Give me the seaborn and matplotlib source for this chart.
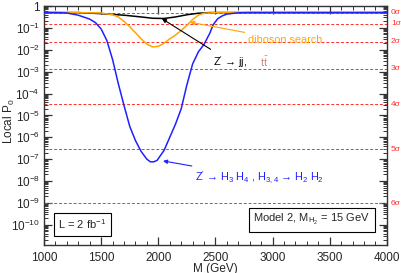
import numpy as np
import pandas as pd
import matplotlib
matplotlib.use("Agg")
import matplotlib.pyplot as plt
import matplotlib.ticker as mticker
import seaborn as sns

# curves: mass (GeV) and log10 of the local p0
blue_m = [1000, 1100, 1200, 1300, 1400, 1450, 1500, 1550, 1600, 1650, 1700, 1750, 1800,
          1850, 1900, 1930, 1960, 1990, 2050, 2100, 2150, 2200, 2250, 2300, 2350, 2400,
          2450, 2480, 2520, 2560, 2600, 2700, 2800, 4000]
blue_logp = [-0.30, -0.30, -0.32, -0.42, -0.60, -0.76, -1.05, -1.58, -2.45, -3.55, -4.55,
             -5.5, -6.15, -6.65, -7.0, -7.12, -7.12, -7.05, -6.6, -6.0, -5.4, -4.7, -3.6,
             -2.65, -2.1, -1.75, -1.25, -0.85, -0.58, -0.45, -0.37, -0.31, -0.30, -0.30]

orange_m = [1000, 1200, 1400, 1500, 1600, 1650, 1700, 1750, 1800, 1850, 1900, 1950, 2000,
            2050, 2100, 2150, 2200, 2250, 2300, 2350, 2400, 2500, 4000]
orange_logp = [-0.30, -0.30, -0.31, -0.32, -0.40, -0.50, -0.70, -0.95, -1.22, -1.50, -1.74,
               -1.87, -1.84, -1.70, -1.50, -1.33, -1.12, -0.88, -0.62, -0.42, -0.33, -0.30,
               -0.30]

black_m = [1000, 1300, 1500, 1700, 1850, 1950, 2050, 2150, 2250, 2350, 2450, 4000]
black_logp = [-0.30, -0.30, -0.35, -0.42, -0.50, -0.56, -0.57, -0.50, -0.40, -0.33, -0.30,
              -0.30]

# one-sided p-values for 0..6 sigma
sigma_labels = ["0σ", "1σ", "2σ", "3σ", "4σ", "5σ", "6σ"]
sigma_p = [0.5, 0.1587, 0.02275, 1.35e-3, 3.17e-5, 2.87e-7, 9.87e-10]

y_decades = list(range(0, -11, -1))

sns.set_style("ticks")
plt.rcParams["font.family"] = ["Liberation Sans", "DejaVu Sans"]
plt.rcParams["mathtext.fontset"] = "custom"
plt.rcParams["mathtext.rm"] = "Liberation Sans"
plt.rcParams["mathtext.it"] = "Liberation Sans"

fig = plt.figure(figsize=(4.02, 2.73), dpi=100)
ax = fig.add_axes([0.1095, 0.1026, 0.853, 0.8754])

for p in sigma_p:
    ax.axhline(p, color="#ff3030", ls=(0, (3, 2)), lw=0.7, zorder=1)
for lab, p in zip(sigma_labels, sigma_p):
    ax.text(1.012, p, lab, transform=ax.get_yaxis_transform(), color="#ff3030",
            fontsize=6, va="center", ha="left")

curves = {"black": (black_m, black_logp, "#000000"),
          "orange": (orange_m, orange_logp, "#ffa500"),
          "blue": (blue_m, blue_logp, "#2020ff")}
for name, (m, lp, col) in curves.items():
    df = pd.DataFrame({"M": m, "p0": 10 ** np.array(lp)})
    sns.lineplot(data=df, x="M", y="p0", ax=ax, color=col, lw=1.1, zorder=3)

ax.set_yscale("log")
ax.set_xlim(1000, 4000)
ax.set_ylim(1.2e-11, 1)
ax.xaxis.set_major_locator(mticker.MultipleLocator(500))
ax.xaxis.set_minor_locator(mticker.MultipleLocator(100))
ax.yaxis.set_major_locator(mticker.FixedLocator([10.0 ** e for e in y_decades]))
ax.yaxis.set_minor_locator(mticker.FixedLocator(
    [s * 10.0 ** e for e in range(-11, 0) for s in range(2, 10)]))
ax.yaxis.set_minor_formatter(mticker.NullFormatter())
ax.yaxis.set_major_formatter(mticker.FixedFormatter(
    ["1" if e == 0 else r"$10^{%d}$" % e for e in y_decades]))

ax.tick_params(which="both", direction="in", top=True, right=True, labelsize=8.5,
               color="#333333")
ax.tick_params(axis="x", pad=5)
ax.tick_params(axis="y", pad=3)
ax.tick_params(which="major", length=6, width=0.9)
ax.tick_params(which="minor", length=3, width=0.7)
for s in ax.spines.values():
    s.set_linewidth(1.0)
    s.set_color("#333333")
ax.set_xlabel("M (GeV)", fontsize=8.5, labelpad=-1)
ax.set_ylabel(r"Local P$_0$", fontsize=8.5)
ax.yaxis.set_label_coords(-0.078, 0.52)

# annotations
ax.annotate("diboson search", xy=(2277, 10 ** -0.74), xytext=(2784, 10 ** -1.55),
            color="#ffa500", fontsize=7.8, va="center", ha="left",
            arrowprops=dict(arrowstyle="-|>", color="#ffa500", lw=0.8,
                            mutation_scale=6, shrinkA=0, shrinkB=0))
ax.annotate(r"Z$'$ → jj, ", xy=(2032, 10 ** -0.58), xytext=(2480, 10 ** -2.56),
            color="black", fontsize=7.8, va="center", ha="left",
            arrowprops=dict(arrowstyle="-|>", color="black", lw=0.8,
                            mutation_scale=6, shrinkA=2, shrinkB=0))
ax.text(2890, 10 ** -2.56, r"t$\bar{\rm t}$", color="#c88888", fontsize=7.8,
        va="center", ha="left")
ax.annotate(r"Z$'$ → H$_3$ H$_4$ , H$_{3,4}$ → H$_2$ H$_2$", xy=(2041, 10 ** -7.08),
            xytext=(2320, 10 ** -7.85), color="#2020ff", fontsize=7.8, va="center",
            ha="left",
            arrowprops=dict(arrowstyle="-|>", color="#2020ff", lw=0.8,
                            mutation_scale=6, shrinkA=2, shrinkB=0))

box = dict(boxstyle="square,pad=0.4", fc="white", ec="black", lw=0.8)
ax.text(0.112, 0.086, r"L = 2 fb$^{-1}$", transform=ax.transAxes, fontsize=8,
        ha="center", va="center", bbox=box)
ax.text(0.781, 0.105, r"Model 2, M$_{\rm H_2}$ = 15 GeV", transform=ax.transAxes,
        fontsize=8, ha="center", va="center", bbox=box)

fig.savefig("out.png", dpi=100)
